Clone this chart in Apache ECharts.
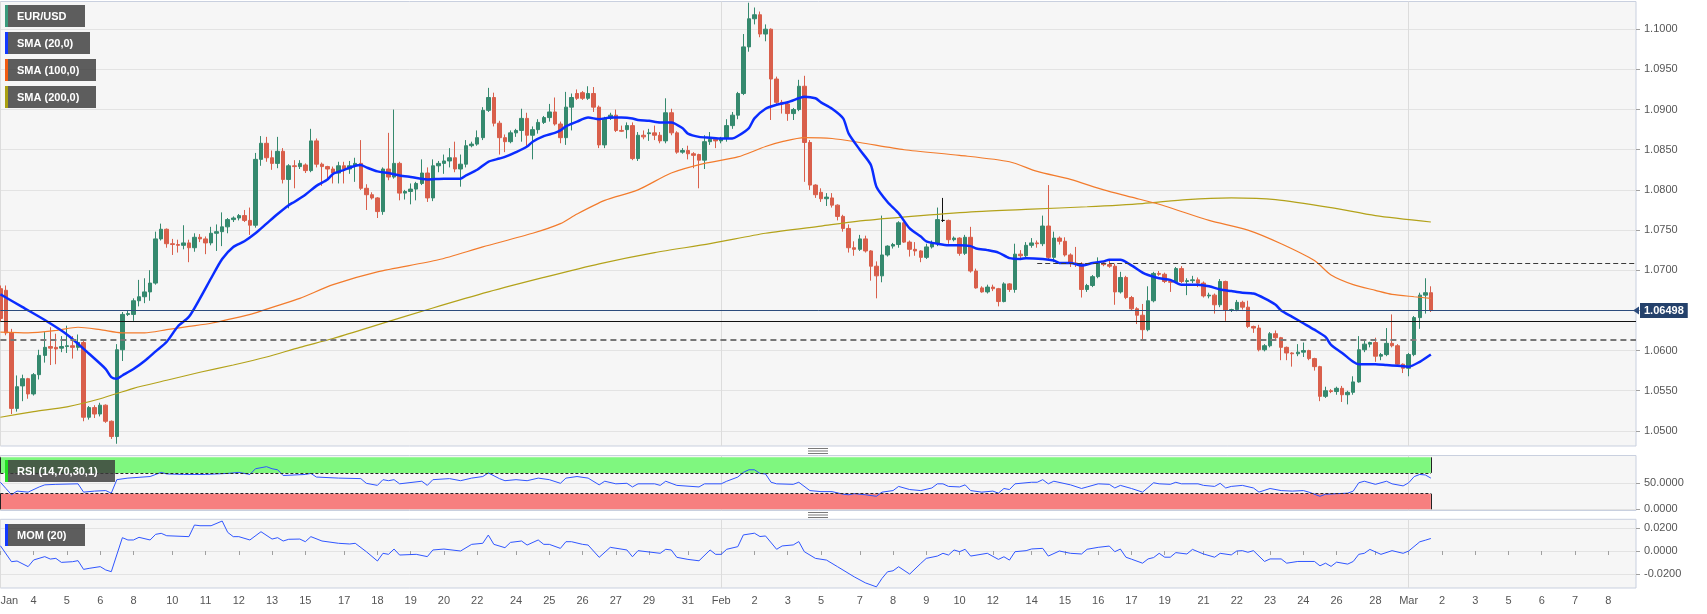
<!DOCTYPE html>
<html>
<head>
<meta charset="utf-8">
<title>EUR/USD 4H</title>
<script src="https://cdn.jsdelivr.net/npm/echarts@6.0.0/dist/echarts.min.js"></script>
<style>
  html, body { margin: 0; padding: 0; background: #fff; }
  #chart { width: 1707px; height: 614px; }
</style>
</head>
<body>
<div id="chart"></div>
<script>
// EUR/USD 4-hour chart, Jan 3 - Mar 1, with SMA overlays, RSI and MOM panels.
// Every bar is one 4h candle; Sundays only carry the evening candle.

// Trading calendar: one entry per day, with the number of 4h bars it holds and
// the text of its axis tick ('' = no tick). Days after Mar 1 are empty space.
const dayNames = [
  'Jan 3', 'Jan 4', 'Jan 5', 'Jan 6',
  'Jan 8', 'Jan 9', 'Jan 10', 'Jan 11', 'Jan 12', 'Jan 13',
  'Jan 15', 'Jan 16', 'Jan 17', 'Jan 18', 'Jan 19', 'Jan 20',
  'Jan 22', 'Jan 23', 'Jan 24', 'Jan 25', 'Jan 26', 'Jan 27',
  'Jan 29', 'Jan 30', 'Jan 31', 'Feb 1', 'Feb 2', 'Feb 3',
  'Feb 5', 'Feb 6', 'Feb 7', 'Feb 8', 'Feb 9', 'Feb 10',
  'Feb 12', 'Feb 13', 'Feb 14', 'Feb 15', 'Feb 16', 'Feb 17',
  'Feb 19', 'Feb 20', 'Feb 21', 'Feb 22', 'Feb 23', 'Feb 24',
  'Feb 26', 'Feb 27', 'Feb 28', 'Mar 1', 'Mar 2', 'Mar 3',
  'Mar 5', 'Mar 6', 'Mar 7', 'Mar 8',
]
const dayBars = [
  6, 6, 6, 6,
  1, 6, 6, 6, 6, 6,
  1, 6, 6, 6, 6, 6,
  1, 6, 6, 6, 6, 6,
  1, 6, 6, 6, 6, 6,
  1, 6, 6, 6, 6, 6,
  1, 6, 6, 6, 6, 6,
  1, 6, 6, 6, 6, 6,
  1, 6, 6, 6, 6, 6,
  6, 6, 6, 6,
]
const dayLabels = [
  'Jan', '4', '5', '6',
  '8', '', '10', '11', '12', '13',
  '15', '', '17', '18', '19', '20',
  '22', '', '24', '25', '26', '27',
  '29', '', '31', 'Feb', '2', '3',
  '5', '', '7', '8', '9', '10',
  '12', '', '14', '15', '16', '17',
  '19', '', '21', '22', '23', '24',
  '26', '', '28', 'Mar', '2', '3',
  '5', '6', '7', '8',
]
const monthLabels = ['Jan', 'Feb', 'Mar']

// Candles, one array per week: [open, high, low, close]
const wk1 = [
  [1.0677, 1.0681, 1.0636, 1.0640], [1.0675, 1.0681, 1.0619, 1.0622], [1.0622, 1.0627, 1.0521, 1.0528],
  [1.0528, 1.0569, 1.0524, 1.0555], [1.0556, 1.0570, 1.0537, 1.0565], [1.0565, 1.0566, 1.0540, 1.0546],
  [1.0546, 1.0572, 1.0544, 1.0570], [1.0570, 1.0601, 1.0564, 1.0594], [1.0594, 1.0623, 1.0585, 1.0604],
  [1.0605, 1.0629, 1.0582, 1.0603], [1.0604, 1.0621, 1.0583, 1.0602], [1.0603, 1.0618, 1.0598, 1.0605],
  [1.0605, 1.0631, 1.0597, 1.0606], [1.0606, 1.0618, 1.0590, 1.0604], [1.0604, 1.0620, 1.0600, 1.0610],
  [1.0610, 1.0614, 1.0512, 1.0517], [1.0517, 1.0531, 1.0514, 1.0529], [1.0529, 1.0532, 1.0516, 1.0521],
  [1.0521, 1.0535, 1.0518, 1.0532], [1.0532, 1.0533, 1.0510, 1.0512], [1.0512, 1.0513, 1.0490, 1.0493],
  [1.0493, 1.0608, 1.0484, 1.0601], [1.0601, 1.0648, 1.0587, 1.0645], [1.0645, 1.0650, 1.0643, 1.0646],
]
const wk2 = [
  [1.0645, 1.0665, 1.0637, 1.0662], [1.0662, 1.0688, 1.0655, 1.0667], [1.0667, 1.0690, 1.0659, 1.0673],
  [1.0673, 1.0700, 1.0662, 1.0684], [1.0684, 1.0748, 1.0682, 1.0739], [1.0739, 1.0758, 1.0737, 1.0751],
  [1.0751, 1.0752, 1.0728, 1.0733], [1.0733, 1.0739, 1.0719, 1.0732], [1.0732, 1.0738, 1.0722, 1.0731],
  [1.0731, 1.0756, 1.0726, 1.0734], [1.0734, 1.0738, 1.0710, 1.0728], [1.0728, 1.0746, 1.0723, 1.0741],
  [1.0741, 1.0745, 1.0735, 1.0739], [1.0739, 1.0742, 1.0720, 1.0734], [1.0734, 1.0754, 1.0731, 1.0746],
  [1.0746, 1.0757, 1.0724, 1.0748], [1.0748, 1.0772, 1.0730, 1.0754], [1.0754, 1.0765, 1.0746, 1.0763],
  [1.0763, 1.0767, 1.0760, 1.0765], [1.0765, 1.0770, 1.0762, 1.0768], [1.0768, 1.0775, 1.0760, 1.0762],
  [1.0762, 1.0778, 1.0744, 1.0756], [1.0756, 1.0846, 1.0753, 1.0838], [1.0838, 1.0867, 1.0830, 1.0858],
  [1.0858, 1.0866, 1.0835, 1.0840], [1.0840, 1.0849, 1.0825, 1.0833], [1.0833, 1.0866, 1.0827, 1.0848],
  [1.0848, 1.0852, 1.0808, 1.0813], [1.0813, 1.0832, 1.0777, 1.0830], [1.0830, 1.0837, 1.0802, 1.0829],
  [1.0829, 1.0837, 1.0826, 1.0833],
]
const wk3 = [
  [1.0831, 1.0833, 1.0821, 1.0824], [1.0824, 1.0876, 1.0822, 1.0861], [1.0861, 1.0864, 1.0828, 1.0832],
  [1.0832, 1.0834, 1.0805, 1.0829], [1.0829, 1.0830, 1.0812, 1.0826], [1.0826, 1.0829, 1.0808, 1.0821],
  [1.0821, 1.0835, 1.0808, 1.0830], [1.0830, 1.0835, 1.0808, 1.0826], [1.0826, 1.0836, 1.0820, 1.0830],
  [1.0830, 1.0840, 1.0810, 1.0833], [1.0833, 1.0862, 1.0800, 1.0802], [1.0802, 1.0807, 1.0775, 1.0794],
  [1.0794, 1.0797, 1.0788, 1.0790], [1.0790, 1.0791, 1.0765, 1.0773], [1.0773, 1.0828, 1.0769, 1.0826],
  [1.0826, 1.0871, 1.0812, 1.0816], [1.0816, 1.0900, 1.0814, 1.0833], [1.0833, 1.0835, 1.0787, 1.0796],
  [1.0796, 1.0800, 1.0788, 1.0798], [1.0798, 1.0808, 1.0782, 1.0801], [1.0801, 1.0810, 1.0787, 1.0808],
  [1.0808, 1.0838, 1.0806, 1.0821], [1.0821, 1.0828, 1.0785, 1.0790], [1.0790, 1.0838, 1.0786, 1.0830],
  [1.0830, 1.0836, 1.0822, 1.0833], [1.0833, 1.0844, 1.0820, 1.0836], [1.0836, 1.0852, 1.0828, 1.0840],
  [1.0840, 1.0860, 1.0822, 1.0826], [1.0826, 1.0844, 1.0804, 1.0832], [1.0832, 1.0862, 1.0828, 1.0855],
  [1.0855, 1.0860, 1.0853, 1.0857],
]
const wk4 = [
  [1.0857, 1.0874, 1.0855, 1.0865], [1.0865, 1.0903, 1.0862, 1.0899], [1.0899, 1.0927, 1.0897, 1.0915],
  [1.0915, 1.0921, 1.0879, 1.0883], [1.0883, 1.0886, 1.0844, 1.0865], [1.0865, 1.0869, 1.0847, 1.0860],
  [1.0860, 1.0874, 1.0858, 1.0871], [1.0871, 1.0876, 1.0866, 1.0874], [1.0874, 1.0901, 1.0860, 1.0889],
  [1.0889, 1.0896, 1.0853, 1.0868], [1.0868, 1.0879, 1.0838, 1.0875], [1.0875, 1.0888, 1.0870, 1.0884],
  [1.0884, 1.0892, 1.0882, 1.0890], [1.0890, 1.0907, 1.0885, 1.0897], [1.0897, 1.0915, 1.0880, 1.0882],
  [1.0882, 1.0885, 1.0858, 1.0865], [1.0865, 1.0922, 1.0856, 1.0903], [1.0903, 1.0920, 1.0874, 1.0915],
  [1.0920, 1.0925, 1.0912, 1.0914], [1.0921, 1.0923, 1.0912, 1.0914], [1.0914, 1.0929, 1.0912, 1.0920],
  [1.0920, 1.0928, 1.0897, 1.0903], [1.0903, 1.0905, 1.0852, 1.0856], [1.0856, 1.0891, 1.0852, 1.0889],
  [1.0889, 1.0896, 1.0887, 1.0893], [1.0893, 1.0900, 1.0872, 1.0874], [1.0874, 1.0880, 1.0872, 1.0873],
  [1.0875, 1.0884, 1.0864, 1.0880], [1.0880, 1.0884, 1.0837, 1.0839], [1.0839, 1.0872, 1.0836, 1.0868],
  [1.0868, 1.0874, 1.0863, 1.0866],
]
const wk5 = [
  [1.0870, 1.0876, 1.0861, 1.0871], [1.0871, 1.0880, 1.0862, 1.0868], [1.0868, 1.0872, 1.0858, 1.0861],
  [1.0861, 1.0914, 1.0858, 1.0896], [1.0896, 1.0901, 1.0868, 1.0871], [1.0871, 1.0873, 1.0845, 1.0847],
  [1.0847, 1.0852, 1.0845, 1.0849], [1.0849, 1.0855, 1.0838, 1.0845], [1.0845, 1.0847, 1.0827, 1.0843],
  [1.0844, 1.0845, 1.0802, 1.0837], [1.0837, 1.0868, 1.0826, 1.0860], [1.0860, 1.0872, 1.0856, 1.0863],
  [1.0863, 1.0865, 1.0852, 1.0861], [1.0861, 1.0866, 1.0858, 1.0863], [1.0864, 1.0888, 1.0860, 1.0880],
  [1.0880, 1.0897, 1.0876, 1.0893], [1.0893, 1.0922, 1.0888, 1.0920], [1.0920, 1.0994, 1.0918, 1.0978],
  [1.0978, 1.1033, 1.0972, 1.1013], [1.1013, 1.1027, 1.1006, 1.1018], [1.1018, 1.1022, 1.0990, 1.0994],
  [1.0994, 1.1006, 1.0985, 1.1000], [1.1000, 1.1001, 1.0887, 1.0938], [1.0938, 1.0941, 1.0907, 1.0909],
  [1.0909, 1.0912, 1.0895, 1.0907], [1.0907, 1.0909, 1.0886, 1.0895], [1.0895, 1.0902, 1.0887, 1.0900],
  [1.0900, 1.0937, 1.0898, 1.0929], [1.0929, 1.0942, 1.0810, 1.0859], [1.0859, 1.0862, 1.0800, 1.0806],
  [1.0806, 1.0807, 1.0790, 1.0794],
]
const wk6 = [
  [1.0797, 1.0802, 1.0785, 1.0789], [1.0789, 1.0796, 1.0780, 1.0791], [1.0790, 1.0796, 1.0778, 1.0781],
  [1.0781, 1.0782, 1.0762, 1.0767], [1.0767, 1.0769, 1.0748, 1.0752], [1.0752, 1.0757, 1.0722, 1.0728],
  [1.0728, 1.0736, 1.0718, 1.0726], [1.0726, 1.0744, 1.0724, 1.0739], [1.0739, 1.0743, 1.0722, 1.0724],
  [1.0724, 1.0725, 1.0687, 1.0705], [1.0705, 1.0711, 1.0665, 1.0693], [1.0693, 1.0768, 1.0685, 1.0719],
  [1.0719, 1.0731, 1.0717, 1.0730], [1.0730, 1.0734, 1.0727, 1.0732], [1.0732, 1.0761, 1.0728, 1.0759],
  [1.0759, 1.0760, 1.0734, 1.0735], [1.0735, 1.0737, 1.0717, 1.0726], [1.0726, 1.0735, 1.0718, 1.0724],
  [1.0724, 1.0725, 1.0710, 1.0716], [1.0716, 1.0733, 1.0714, 1.0729], [1.0729, 1.0737, 1.0727, 1.0733],
  [1.0733, 1.0778, 1.0730, 1.0763], [1.0762, 1.0790, 1.0760, 1.0762], [1.0762, 1.0763, 1.0733, 1.0738],
  [1.0738, 1.0742, 1.0736, 1.0740], [1.0740, 1.0741, 1.0718, 1.0721], [1.0721, 1.0744, 1.0719, 1.0741],
  [1.0741, 1.0754, 1.0697, 1.0699], [1.0699, 1.0702, 1.0677, 1.0678], [1.0678, 1.0680, 1.0672, 1.0673],
  [1.0673, 1.0682, 1.0671, 1.0679],
]
const wk7 = [
  [1.0679, 1.0682, 1.0674, 1.0677], [1.0677, 1.0678, 1.0655, 1.0661], [1.0661, 1.0685, 1.0660, 1.0683],
  [1.0683, 1.0684, 1.0673, 1.0676], [1.0676, 1.0733, 1.0672, 1.0720], [1.0720, 1.0725, 1.0713, 1.0718],
  [1.0718, 1.0735, 1.0716, 1.0731], [1.0731, 1.0740, 1.0728, 1.0734], [1.0734, 1.0737, 1.0728, 1.0733],
  [1.0733, 1.0768, 1.0730, 1.0755], [1.0755, 1.0806, 1.0712, 1.0716], [1.0716, 1.0748, 1.0710, 1.0740],
  [1.0740, 1.0742, 1.0732, 1.0736], [1.0736, 1.0741, 1.0717, 1.0719], [1.0719, 1.0721, 1.0704, 1.0709],
  [1.0709, 1.0729, 1.0704, 1.0708], [1.0708, 1.0710, 1.0666, 1.0676], [1.0676, 1.0683, 1.0673, 1.0681],
  [1.0681, 1.0694, 1.0679, 1.0692], [1.0692, 1.0716, 1.0690, 1.0709], [1.0709, 1.0711, 1.0705, 1.0707],
  [1.0707, 1.0714, 1.0703, 1.0705], [1.0705, 1.0708, 1.0657, 1.0673], [1.0673, 1.0698, 1.0671, 1.0691],
  [1.0691, 1.0693, 1.0664, 1.0666], [1.0666, 1.0668, 1.0650, 1.0652], [1.0652, 1.0654, 1.0633, 1.0644],
  [1.0644, 1.0658, 1.0613, 1.0626], [1.0626, 1.0680, 1.0624, 1.0662], [1.0662, 1.0698, 1.0660, 1.0696],
  [1.0696, 1.0699, 1.0693, 1.0695],
]
const wk8 = [
  [1.0695, 1.0697, 1.0684, 1.0686], [1.0686, 1.0688, 1.0673, 1.0685], [1.0685, 1.0704, 1.0684, 1.0702],
  [1.0702, 1.0705, 1.0684, 1.0686], [1.0686, 1.0690, 1.0669, 1.0687], [1.0687, 1.0693, 1.0684, 1.0688],
  [1.0688, 1.0691, 1.0679, 1.0684], [1.0684, 1.0686, 1.0666, 1.0668], [1.0668, 1.0672, 1.0665, 1.0669],
  [1.0669, 1.0671, 1.0646, 1.0657], [1.0657, 1.0689, 1.0654, 1.0686], [1.0686, 1.0687, 1.0637, 1.0650],
  [1.0650, 1.0652, 1.0648, 1.0651], [1.0651, 1.0663, 1.0649, 1.0660], [1.0660, 1.0662, 1.0651, 1.0654],
  [1.0654, 1.0662, 1.0628, 1.0630], [1.0630, 1.0631, 1.0622, 1.0628], [1.0628, 1.0632, 1.0599, 1.0601],
  [1.0601, 1.0608, 1.0599, 1.0606], [1.0606, 1.0623, 1.0604, 1.0621], [1.0621, 1.0625, 1.0614, 1.0616],
  [1.0616, 1.0617, 1.0588, 1.0604], [1.0604, 1.0605, 1.0588, 1.0597], [1.0597, 1.0598, 1.0580, 1.0596],
  [1.0596, 1.0608, 1.0593, 1.0598], [1.0598, 1.0610, 1.0592, 1.0600], [1.0600, 1.0601, 1.0588, 1.0590],
  [1.0590, 1.0591, 1.0575, 1.0580], [1.0580, 1.0581, 1.0537, 1.0543], [1.0543, 1.0555, 1.0541, 1.0550],
  [1.0550, 1.0552, 1.0547, 1.0549],
]
const wk9 = [
  [1.0549, 1.0555, 1.0545, 1.0553], [1.0553, 1.0556, 1.0536, 1.0545], [1.0545, 1.0550, 1.0533, 1.0548],
  [1.0548, 1.0568, 1.0545, 1.0561], [1.0561, 1.0618, 1.0560, 1.0601], [1.0601, 1.0612, 1.0598, 1.0608],
  [1.0608, 1.0611, 1.0604, 1.0610], [1.0610, 1.0616, 1.0586, 1.0593], [1.0593, 1.0597, 1.0588, 1.0595],
  [1.0595, 1.0628, 1.0593, 1.0609], [1.0609, 1.0645, 1.0604, 1.0606], [1.0606, 1.0608, 1.0580, 1.0583],
  [1.0583, 1.0584, 1.0572, 1.0578], [1.0578, 1.0597, 1.0568, 1.0595], [1.0595, 1.0643, 1.0593, 1.0641],
  [1.0641, 1.0672, 1.0627, 1.0669], [1.0669, 1.0690, 1.0646, 1.0672], [1.0672, 1.0680, 1.0648, 1.06498],
]
// Doji bars the source draws in black.
const blackBars = [170]

// Moving averages: [bar index, value]
const sma20 = [
  [0, 1.0670], [4, 1.0654], [8, 1.0638], [12, 1.0620], [16, 1.0596], [19, 1.0577], [20, 1.0567],
  [21, 1.0565], [22, 1.0569], [24, 1.0577], [26, 1.0587], [28, 1.0599], [30, 1.0611], [32, 1.0630],
  [34, 1.0642], [36, 1.0665], [38, 1.0690], [40, 1.0714], [42, 1.0729], [44, 1.0736], [46, 1.0746],
  [48, 1.0758], [50, 1.0770], [52, 1.0781], [53, 1.0785], [55, 1.0794], [57, 1.0805], [59, 1.0813],
  [60, 1.0820], [62, 1.0825], [64, 1.0830], [65, 1.0831], [66, 1.0828], [68, 1.0823], [70, 1.0821],
  [72, 1.0818], [74, 1.0816], [77, 1.0813], [80, 1.0814], [83, 1.0814], [84, 1.0818], [86, 1.0825],
  [88, 1.0835], [90, 1.0839], [91, 1.0841], [93, 1.0847], [95, 1.0854], [96, 1.0860], [98, 1.0867],
  [100, 1.0871], [101, 1.0874], [102, 1.0879], [104, 1.0885], [106, 1.0890], [108, 1.0888],
  [110, 1.0890], [112, 1.0890], [114, 1.0889], [115, 1.0887], [117, 1.0886], [119, 1.0884],
  [121, 1.0884], [123, 1.0877], [124, 1.0870], [126, 1.0866], [128, 1.0865], [130, 1.0864],
  [132, 1.0864], [133, 1.0867], [135, 1.0877], [136, 1.0889], [138, 1.0901], [140, 1.0906],
  [142, 1.0909], [144, 1.0914], [145, 1.0916], [147, 1.0914], [148, 1.0909], [150, 1.0901],
  [152, 1.0889], [153, 1.0870], [155, 1.0850], [157, 1.0831], [158, 1.0804], [160, 1.0785],
  [162, 1.0771], [164, 1.0752], [166, 1.0742], [167, 1.0736], [169, 1.0733], [171, 1.0731],
  [173, 1.0731], [175, 1.0730], [176, 1.0727], [178, 1.0725], [180, 1.0722], [182, 1.0715],
  [184, 1.0714], [185, 1.0715], [188, 1.0714], [190, 1.0712], [191, 1.0709], [193, 1.0709],
  [195, 1.0706], [197, 1.0709], [199, 1.0711], [200, 1.0713], [202, 1.0713], [204, 1.0706],
  [206, 1.0697], [207, 1.0694], [209, 1.0690], [211, 1.0688], [213, 1.0682], [216, 1.0682],
  [218, 1.0680], [220, 1.0676], [222, 1.0674], [224, 1.0672], [226, 1.0671], [228, 1.0665],
  [230, 1.0657], [231, 1.0650], [233, 1.0642], [235, 1.0634], [237, 1.0626], [239, 1.0617],
  [240, 1.0607], [242, 1.0597], [244, 1.0586], [245, 1.0583], [248, 1.0583], [250, 1.0582],
  [252, 1.0581], [254, 1.0580], [256, 1.0586], [258, 1.0595],
]
const sma100 = [
  [0, 1.0623], [5, 1.0622], [10, 1.0625], [14, 1.0629], [18, 1.0626], [22, 1.0622], [26, 1.0622],
  [30, 1.0626], [34, 1.0630], [38, 1.0634], [42, 1.0640], [46, 1.0647], [50, 1.0656], [54, 1.0665],
  [60, 1.0682], [68, 1.0698], [79, 1.0713], [87, 1.0729], [96, 1.0746], [101, 1.0758], [104, 1.0770],
  [109, 1.0787], [115, 1.0800], [121, 1.0821], [127, 1.0833], [133, 1.0841], [138, 1.0854],
  [141, 1.0860], [145, 1.0865], [150, 1.0864], [155, 1.0859], [163, 1.0850], [173, 1.0843],
  [182, 1.0835], [187, 1.0823], [193, 1.0813], [199, 1.0800], [204, 1.0791], [210, 1.0780],
  [218, 1.0762], [225, 1.0750], [231, 1.0733], [237, 1.0712], [240, 1.0694], [244, 1.0682],
  [248, 1.0675], [251, 1.0670], [255, 1.0667], [258, 1.0665],
]
const sma200 = [
  [0, 1.0517], [6, 1.0524], [12, 1.0530], [18, 1.0540], [24, 1.0553], [30, 1.0563], [36, 1.0573],
  [42, 1.0582], [48, 1.0592], [54, 1.0604], [60, 1.0615], [68, 1.0632], [78, 1.0653], [88, 1.0673],
  [98, 1.0691], [108, 1.0708], [118, 1.0722], [128, 1.0733], [138, 1.0746], [148, 1.0755],
  [156, 1.0762], [166, 1.0768], [176, 1.0773], [186, 1.0776], [196, 1.0779], [206, 1.0783],
  [214, 1.0788], [222, 1.0790], [230, 1.0788], [240, 1.0778], [248, 1.0768], [258, 1.0760],
]

// RSI (14) and Momentum (20): [bar index, value]
const rsi = [
  [0, 52], [1, 40], [2, 28], [3, 35], [5, 33], [7, 43], [8, 47], [10, 48], [14, 49], [15, 33], [17, 35],
  [19, 36], [20, 31], [21, 57], [23, 60], [27, 63], [29, 71], [30, 68], [33, 67], [37, 67], [41, 69],
  [43, 71], [45, 67], [46, 78], [48, 82], [49, 78], [50, 76], [51, 65], [55, 67], [56, 69], [57, 62],
  [61, 60], [65, 59], [66, 50], [68, 46], [69, 57], [70, 55], [71, 57], [72, 49], [76, 54], [77, 46],
  [78, 57], [81, 59], [83, 55], [85, 60], [87, 63], [88, 70], [90, 59], [91, 55], [93, 57], [95, 55],
  [97, 60], [99, 57], [101, 50], [102, 60], [104, 63], [106, 60], [108, 47], [109, 54], [111, 49],
  [113, 50], [114, 43], [115, 49], [118, 49], [119, 46], [120, 54], [122, 46], [126, 43], [127, 49],
  [130, 49], [131, 54], [133, 62], [134, 71], [135, 76], [136, 76], [137, 69], [138, 68], [139, 52],
  [140, 49], [143, 48], [144, 52], [146, 36], [148, 34], [150, 34], [152, 29], [153, 28], [154, 30],
  [156, 28], [158, 25], [159, 33], [161, 36], [162, 44], [164, 38], [166, 36], [168, 41], [169, 49],
  [170, 49], [171, 44], [173, 43], [174, 47], [175, 36], [177, 33], [179, 35], [180, 31], [181, 40],
  [182, 38], [183, 49], [186, 52], [187, 52], [188, 57], [189, 49], [190, 54], [193, 47], [195, 40],
  [196, 43], [198, 49], [200, 48], [201, 41], [202, 46], [204, 40], [206, 33], [208, 51], [209, 49],
  [211, 48], [212, 52], [213, 49], [216, 49], [217, 46], [219, 44], [220, 50], [221, 41], [222, 44],
  [224, 46], [226, 41], [227, 33], [229, 40], [231, 36], [233, 35], [235, 36], [236, 33], [238, 25],
  [239, 29], [241, 30], [243, 31], [244, 35], [245, 51], [246, 54], [248, 48], [250, 54], [251, 49],
  [253, 45], [254, 51], [255, 63], [256, 67], [257, 66], [258, 60],
]
const mom = [
  [0, 0.0046], [2, -0.0093], [3, -0.0087], [5, -0.0136], [6, -0.0078], [8, -0.0049], [9, -0.0070],
  [10, -0.0064], [11, -0.0099], [13, -0.0093], [14, -0.0084], [15, -0.0160], [16, -0.0151],
  [18, -0.0136], [19, -0.0165], [20, -0.0180], [22, 0.0116], [23, 0.0096], [24, 0.0096], [25, 0.0119],
  [27, 0.0096], [28, 0.0145], [29, 0.0154], [30, 0.0133], [34, 0.0125], [35, 0.0226], [36, 0.0220],
  [38, 0.0220], [40, 0.0261], [41, 0.0162], [42, 0.0125], [43, 0.0125], [45, 0.0096], [47, 0.0168],
  [49, 0.0104], [50, 0.0116], [51, 0.0087], [52, 0.0102], [54, 0.0104], [55, 0.0081], [56, 0.0125],
  [58, 0.0087], [61, 0.0067], [63, 0.0061], [64, 0.0067], [66, -0.0006], [68, -0.0087], [69, -0.0020],
  [70, -0.0029], [71, 0.0017], [72, -0.0035], [75, -0.0029], [77, -0.0049], [78, 0.0009], [80, 0.0017],
  [83, 0.0000], [85, 0.0058], [87, 0.0067], [88, 0.0139], [89, 0.0058], [91, 0.0029], [92, 0.0075],
  [94, 0.0087], [95, 0.0052], [97, 0.0096], [98, 0.0058], [99, 0.0058], [101, 0.0023], [102, 0.0081],
  [103, 0.0081], [105, 0.0058], [106, 0.0052], [108, -0.0055], [110, 0.0032], [113, 0.0009],
  [114, -0.0050], [115, 0.0003], [119, -0.0020], [120, 0.0015], [121, 0.0009], [122, -0.0055],
  [124, -0.0073], [126, -0.0085], [128, 0.0009], [129, -0.0029], [130, -0.0029], [131, 0.0015],
  [133, 0.0038], [134, 0.0140], [136, 0.0155], [137, 0.0126], [138, 0.0131], [140, 0.0015],
  [141, 0.0044], [143, 0.0053], [144, 0.0082], [145, -0.0006], [147, -0.0064], [149, -0.0079],
  [151, -0.0137], [154, -0.0225], [156, -0.0277], [158, -0.0312], [159, -0.0239], [160, -0.0181],
  [161, -0.0172], [162, -0.0137], [164, -0.0201], [166, -0.0108], [167, -0.0064], [169, -0.0044],
  [170, -0.0020], [171, -0.0035], [172, 0.0009], [173, -0.0006], [174, 0.0015], [175, -0.0044],
  [178, -0.0020], [180, -0.0073], [181, -0.0050], [182, -0.0079], [183, -0.0006], [185, 0.0003],
  [186, 0.0018], [188, 0.0023], [189, -0.0044], [191, 0.0000], [193, -0.0020], [195, -0.0026],
  [196, 0.0015], [198, 0.0032], [200, 0.0043], [201, -0.0006], [202, 0.0017], [203, -0.0054],
  [204, -0.0071], [206, -0.0106], [207, -0.0069], [208, -0.0057], [209, -0.0020], [210, -0.0054],
  [211, -0.0054], [212, -0.0014], [214, -0.0026], [215, 0.0014], [217, -0.0026], [219, -0.0054],
  [220, -0.0020], [222, -0.0034], [223, 0.0000], [224, 0.0003], [225, -0.0011], [226, 0.0003],
  [228, -0.0091], [229, -0.0069], [231, -0.0069], [232, -0.0106], [234, -0.0091], [237, -0.0091],
  [238, -0.0129], [239, -0.0106], [240, -0.0134], [241, -0.0097], [243, -0.0114], [244, -0.0091],
  [245, -0.0029], [246, -0.0020], [247, 0.0014], [249, -0.0029], [251, 0.0003], [253, -0.0020],
  [254, 0.0000], [256, 0.0080], [257, 0.0094], [258, 0.0109],
]

// Horizontal price levels: last price, solid level, upper dashed (from a bar on), lower dashed.
const levels = [1.06498, 1.06368, 1.07086, 1.06140]
const upperDashFrom = 187
const rsiBands = [30, 70]

// Axis tick values.
const priceTicks = [1.05, 1.055, 1.06, 1.065, 1.07, 1.075, 1.08, 1.085, 1.09, 1.095, 1.1]
const rsiTicks = [0, 50]
const momTicks = [-0.02, 0, 0.02]

// ---------------------------------------------------------------------------

const FONT = '"Liberation Sans", Arial, sans-serif'
const UP = '#35896e'
const DOWN = '#d95f4b'
const GRID_BORDER = '#c9d0df'
const PLOT_BG = '#f6f6f6'
const SPLIT = '#e3e3e3'
const LINE_BLUE = '#2f55ff'

const cats = []
const tickText = []
dayNames.forEach((d, k) => {
  for (let b = 0; b < dayBars[k]; b++) {
    cats.push(`${d} #${b + 1}`)
    tickText.push(b === 0 ? dayLabels[k] : '')
  }
})
const monthStarts = tickText.map((t, i) => (monthLabels.includes(t) ? i : -1)).filter((i) => i >= 0)
const lastCat = cats[cats.length - 1]

const candles = [].concat(wk1, wk2, wk3, wk4, wk5, wk6, wk7, wk8, wk9)
const lastBar = candles.length - 1
const lastClose = candles[lastBar][3]
// ECharts rows are [open, close, low, high].
const candleData = candles.map((c, i) => {
  const v = [c[0], c[3], c[2], c[1]]
  if (!blackBars.includes(i)) return v
  return {value: v, itemStyle: {color: '#111', color0: '#111', borderColor: '#111', borderColor0: '#111'}}
})

const onTick = (ticks) => (v) => ticks.some((t) => Math.abs(t - v) < 1e-9)

const grids = [
  {left: 0.4, right: 71, top: 1.5, height: 444.5},
  {left: 0.4, right: 71, top: 455.5, height: 55},
  {left: 0.4, right: 71, top: 519.3, height: 68.7},
].map((g) => ({...g, show: true, backgroundColor: PLOT_BG, borderColor: GRID_BORDER, borderWidth: 1, outerBoundsMode: 'none', containLabel: false}))

const monthSplit = {
  show: true,
  interval: (i) => monthStarts.includes(i),
  lineStyle: {color: '#dcdcdc', width: 1},
}

const xAxis = [0, 1, 2].map((gi) => ({
  type: 'category',
  gridIndex: gi,
  data: cats,
  boundaryGap: false,
  axisLine: {show: false},
  axisTick: gi === 2
    ? {show: true, interval: (i) => tickText[i] !== '', length: 4, lineStyle: {color: '#a0a0a0'}}
    : {show: false},
  axisLabel: gi === 2
    ? {
        show: true,
        interval: (i) => tickText[i] !== '',
        formatter: (v, i) => tickText[i],
        color: '#555',
        fontSize: 11,
        fontFamily: FONT,
        margin: 7,
        alignMinLabel: 'left',
      }
    : {show: false},
  splitLine: monthSplit,
}))

const valueAxis = (gi, min, max, step, ticks, digits) => ({
  type: 'value',
  gridIndex: gi,
  position: 'right',
  min,
  max,
  minInterval: step,
  maxInterval: step,
  axisLine: {show: false},
  axisTick: {show: true, length: 4, lineStyle: {color: '#a0a0a0'}, customValues: ticks},
  axisLabel: {
    color: '#555',
    fontSize: 11,
    fontFamily: FONT,
    margin: 8,
    customValues: ticks,
    formatter: (v) => (onTick(ticks)(v) ? v.toFixed(digits) : ''),
  },
  splitLine: {show: true, lineStyle: {color: SPLIT, width: 1}},
})

const yAxis = [
  valueAxis(0, 1.04812, 1.10345, 0.005, priceTicks, 4),
  valueAxis(1, -2.31, 103.46, 50, rsiTicks, 4),
  valueAxis(2, -0.0322, 0.0276, 0.02, momTicks, 4),
]

const smaLine = (name, data, color, width) => ({
  type: 'line',
  name,
  xAxisIndex: 0,
  yAxisIndex: 0,
  data,
  showSymbol: false,
  smooth: 0.25,
  lineStyle: {color, width},
  z: 3,
  silent: true,
})

const priceMarkLine = {
  silent: true,
  symbol: ['none', 'none'],
  label: {show: false},
  emphasis: {disabled: true},
  data: [
    // solid level
    [
      {coord: [cats[0], levels[1]], lineStyle: {color: '#111', width: 1.2, type: 'solid'}},
      {coord: [lastCat, levels[1]]},
    ],
    // lower dashed level
    [
      {coord: [cats[0], levels[3]], lineStyle: {color: '#777', width: 2, type: [6, 4]}},
      {coord: [lastCat, levels[3]]},
    ],
    // upper dashed level
    [
      {coord: [cats[upperDashFrom], levels[2]], lineStyle: {color: '#3a3a3a', width: 1.2, type: [5, 3]}},
      {coord: [lastCat, levels[2]]},
    ],
    // last price line with its tag
    [
      {
        coord: [cats[0], levels[0]],
        lineStyle: {color: '#2b4b7c', width: 1, type: 'solid'},
        label: {
          show: true,
          position: 'end',
          distance: 4,
          formatter: lastClose.toFixed(5),
          color: '#fff',
          fontWeight: 'bold',
          fontSize: 11,
          fontFamily: FONT,
          backgroundColor: '#24416b',
          padding: [2, 4, 2, 4],
        },
      },
      {coord: [lastCat, levels[0]], symbol: 'triangle', symbolSize: [8, 6], symbolRotate: 90},
    ],
  ],
}

const bandEdge = {color: '#222', width: 1}
const rsiMarks = {
  type: 'line',
  name: 'RSI bands',
  xAxisIndex: 1,
  yAxisIndex: 1,
  data: [],
  silent: true,
  z: 1,
  markArea: {
    silent: true,
    data: [
      [{coord: [cats[0], rsiBands[1]], itemStyle: {color: '#7ff77f'}}, {coord: [cats[lastBar], 100]}],
      [{coord: [cats[0], 0], itemStyle: {color: '#f77f7f'}}, {coord: [cats[lastBar], rsiBands[0]]}],
    ],
  },
  markLine: {
    silent: true,
    symbol: ['none', 'none'],
    label: {show: false},
    lineStyle: {...bandEdge, type: [3, 2]},
    data: [
      [{coord: [cats[0], rsiBands[1]]}, {coord: [cats[lastBar], rsiBands[1]]}],
      [{coord: [cats[0], rsiBands[0]]}, {coord: [cats[lastBar], rsiBands[0]]}],
      [{coord: [cats[lastBar], rsiBands[1]], lineStyle: {...bandEdge, type: 'solid'}}, {coord: [cats[lastBar], 100]}],
      [{coord: [cats[lastBar], 0], lineStyle: {...bandEdge, type: 'solid'}}, {coord: [cats[lastBar], rsiBands[0]]}],
      [{coord: [cats[0], rsiBands[1]], lineStyle: {...bandEdge, type: 'solid'}}, {coord: [cats[0], 100]}],
      [{coord: [cats[0], 0], lineStyle: {...bandEdge, type: 'solid'}}, {coord: [cats[0], rsiBands[0]]}],
    ],
  },
}

// Panel captions (top-left boxes) and the splitter grips between panels.
const captions = [
  {text: 'EUR/USD', stripe: '#3a9a7c', x: 5, y: 5, w: 80},
  {text: 'SMA (20,0)', stripe: '#1238ff', x: 5, y: 32, w: 85},
  {text: 'SMA (100,0)', stripe: '#f25c12', x: 5, y: 59, w: 91},
  {text: 'SMA (200,0)', stripe: '#aaa012', x: 5, y: 86, w: 91},
  {text: 'RSI (14,70,30,1)', stripe: '#22dd22', x: 5, y: 460, w: 110},
  {text: 'MOM (20)', stripe: '#1238ff', x: 5, y: 524, w: 80},
]
const graphic = []
captions.forEach((c) => {
  graphic.push({type: 'rect', silent: true, z: 100, shape: {x: c.x, y: c.y, width: c.w, height: 22}, style: {fill: 'rgba(58,58,58,0.82)'}})
  graphic.push({type: 'rect', silent: true, z: 101, shape: {x: c.x, y: c.y, width: 3, height: 22}, style: {fill: c.stripe}})
  graphic.push({
    type: 'text', silent: true, z: 102,
    style: {text: c.text, x: c.x + 12, y: c.y + 11.5, verticalAlign: 'middle', fill: '#fff', font: `bold 11px ${FONT}`},
  })
})
;[448, 512].forEach((y0) => {
  for (let k = 0; k < 3; k++) {
    graphic.push({
      type: 'line', silent: true, z: 100,
      shape: {x1: 808, y1: y0 + k * 2.5 + 0.5, x2: 828, y2: y0 + k * 2.5 + 0.5},
      style: {stroke: '#7a7a7a', lineWidth: 1},
    })
  }
})

const option = {
  animation: false,
  backgroundColor: '#ffffff',
  textStyle: {fontFamily: FONT},
  grid: grids,
  xAxis,
  yAxis,
  graphic,
  series: [
    {
      type: 'candlestick',
      name: 'EUR/USD',
      xAxisIndex: 0,
      yAxisIndex: 0,
      data: candleData,
      barWidth: 4,
      clip: true,
      silent: true,
      itemStyle: {color: UP, color0: DOWN, borderColor: UP, borderColor0: DOWN, borderWidth: 1},
      markLine: priceMarkLine,
      z: 2,
    },
    smaLine('SMA (200,0)', sma200, '#b3a21a', 1.2),
    smaLine('SMA (100,0)', sma100, '#f27b2c', 1.2),
    smaLine('SMA (20,0)', sma20, '#0a2cff', 2.5),
    rsiMarks,
    {
      type: 'line',
      name: 'RSI (14,70,30,1)',
      xAxisIndex: 1,
      yAxisIndex: 1,
      data: rsi,
      showSymbol: false,
      silent: true,
      lineStyle: {color: LINE_BLUE, width: 1},
      z: 4,
    },
    {
      type: 'line',
      name: 'MOM (20)',
      xAxisIndex: 2,
      yAxisIndex: 2,
      data: mom,
      showSymbol: false,
      silent: true,
      lineStyle: {color: LINE_BLUE, width: 1},
      z: 4,
    },
  ],
}

const chart = echarts.init(document.getElementById('chart'), null, {renderer: 'canvas'})
chart.setOption(option)
window.addEventListener('resize', () => chart.resize())
</script>
</body>
</html>
